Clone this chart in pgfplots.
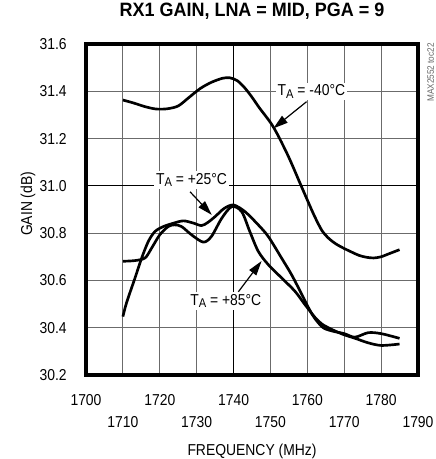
\documentclass[border=0pt]{standalone}
\usepackage{fontspec}
\setmainfont[FakeStretch=0.88]{Liberation Sans}
\newfontfamily\titlefont[FakeStretch=0.93]{Liberation Sans}
\usepackage{pgfplots}
\pgfplotsset{compat=1.18}
\usetikzlibrary{arrows.meta}

\newcommand{\TA}{T\raisebox{-0.3ex}{\fontsize{9.5}{10}\selectfont A}}
\pgfplotsset{curve/.style={line width=2pt, black, no markers, smooth, tension=0.5}}

\begin{document}
\begin{tikzpicture}
\begin{axis}[
    at={(0,0)}, anchor=south west,
    scale only axis,
    width=249pt, height=248.25pt,
    xmin=1700, xmax=1790,
    ymin=30.2, ymax=31.6,
    xtick={1700,1710,...,1790},
    xticklabels={1700,\raisebox{-16.5pt}{1710},1720,\raisebox{-16.5pt}{1730},1740,
        \raisebox{-16.5pt}{1750},1760,\raisebox{-16.5pt}{1770},1780,\raisebox{-16.5pt}{1790}},
    ytick={30.2,30.4,...,31.6},
    major tick length=0pt,
    grid=major,
    grid style={line width=0.9pt, black!58},
    axis line style={line width=2.5pt},
    /pgf/number format/assume math mode=true,
    tick label style={font=\fontsize{11.85}{14}\selectfont},
    xticklabel style={anchor=base, yshift=-22.5pt},
    yticklabel style={anchor=east, inner sep=0pt, xshift=-14.25pt,
        /pgf/number format/fixed, /pgf/number format/fixed zerofill,
        /pgf/number format/precision=1},
    title={\titlefont\bfseries RX1 GAIN, LNA = MID, PGA = 9},
    title style={at={(axis description cs:0.5,1)}, anchor=base, yshift=14.25pt,
        font=\fontsize{14.5}{16}\selectfont},
    xlabel={FREQUENCY (MHz)},
    xlabel style={at={(axis description cs:0.5,0)}, anchor=center, yshift=-57pt,
        font=\fontsize{11.85}{14}\selectfont},
    ylabel={GAIN (dB)},
    ylabel style={at={(axis description cs:-0.1747,0.517)}, anchor=center,
        font=\fontsize{11.85}{14}\selectfont},
]
% darker centre lines
\draw[line width=0.8pt, black] (axis cs:1740,30.2) -- (axis cs:1740,31.6);
\draw[line width=0.8pt, black] (axis cs:1700,31.0) -- (axis cs:1790,31.0);

% TA = -40C
\addplot[curve] coordinates {
(1710,31.363)(1713,31.350)(1716,31.335)(1719,31.325)(1722,31.326)(1725,31.338)
(1728,31.375)(1731,31.412)(1734,31.438)(1737,31.455)(1739,31.457)(1741,31.445)
(1743,31.415)(1745,31.375)(1747,31.330)(1750,31.268)(1752,31.215)(1755,31.120)
(1758,31.012)(1760,30.940)(1762,30.870)(1764,30.810)(1766,30.775)(1768,30.752)
(1770,30.735)(1772,30.720)(1774,30.706)(1776,30.698)(1778,30.695)(1780,30.700)
(1782,30.712)(1785,30.730)};

% TA = +25C
\addplot[curve] coordinates {
(1710,30.447)(1711,30.506)(1713.3,30.611)(1715.1,30.695)(1716.9,30.765)
(1718.7,30.807)(1721,30.828)(1723.7,30.842)(1726.4,30.852)(1729,30.843)
(1731.3,30.832)(1733,30.845)(1735,30.870)(1737.5,30.905)(1740,30.919)
(1743.1,30.891)(1746.7,30.835)(1749.4,30.786)(1753,30.695)(1755.7,30.625)
(1758.5,30.541)(1760.3,30.485)(1762,30.440)(1764.3,30.400)(1767,30.385)
(1770,30.375)(1772.9,30.360)(1776.5,30.379)(1780,30.375)(1785,30.355)};

% TA = +85C
\addplot[curve] coordinates {
(1710,30.681)(1713.3,30.684)(1716,30.695)(1717.8,30.737)(1720,30.793)
(1722.3,30.828)(1724,30.835)(1725.9,30.828)(1728.6,30.793)(1731.8,30.762)
(1734,30.786)(1736.8,30.863)(1739.5,30.912)(1742.2,30.891)(1744.4,30.807)
(1746.7,30.723)(1749.4,30.667)(1753,30.611)(1756.6,30.555)(1759.3,30.499)
(1762,30.445)(1764,30.415)(1767,30.390)(1770,30.370)(1773,30.355)
(1776.3,30.337)(1780,30.325)(1785,30.331)};

% labels and arrows
\node[fill=white, inner sep=1.5pt, font=\fontsize{11.85}{14}\selectfont]
    at (axis cs:1761.1,31.40) {\TA{} = -40°C};
\draw[-{Triangle[length=11pt,width=6.5pt]}, line width=0.9pt]
    (axis cs:1759.8,31.356) -- (axis cs:1750.8,31.243);

\node[fill=white, inner sep=1.5pt, font=\fontsize{11.85}{14}\selectfont]
    at (axis cs:1728.6,31.025) {\TA{} = +25°C};
\draw[-{Triangle[length=11pt,width=6.5pt]}, line width=0.9pt]
    (axis cs:1728.2,30.975) -- (axis cs:1734.1,30.877);

\node[fill=white, inner sep=1.5pt, font=\fontsize{11.85}{14}\selectfont]
    at (axis cs:1737.9,30.514) {\TA{} = +85°C};
\draw[-{Triangle[length=11pt,width=6.5pt]}, line width=0.9pt]
    (axis cs:1741.3,30.552) -- (axis cs:1747.6,30.682);
\end{axis}

\node[rotate=90, text=black!60, font=\fontsize{7}{8}\selectfont, inner sep=0pt]
    at (258.5pt,226.9pt) {MAX2552 toc22};

\pgfresetboundingbox
\path[use as bounding box] (-64.5pt,-63pt) rectangle (261.75pt,281.25pt);
\end{tikzpicture}
\end{document}
